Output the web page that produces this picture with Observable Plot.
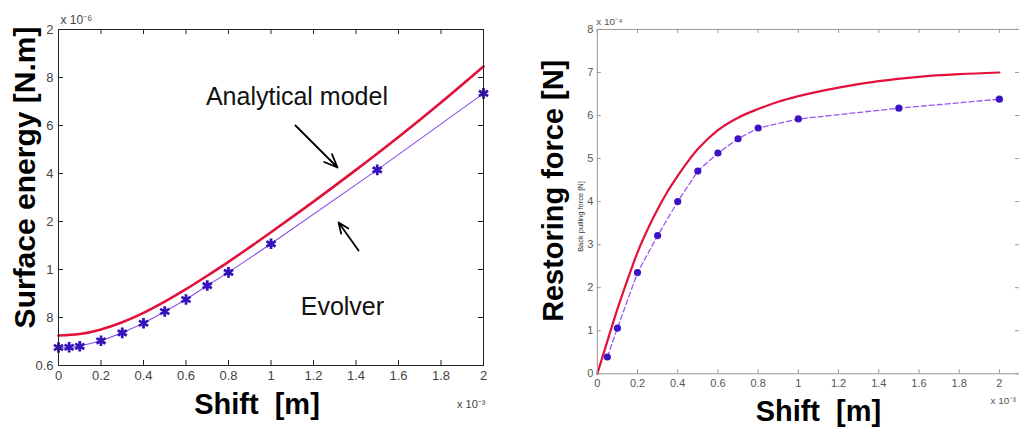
<!DOCTYPE html>
<html>
<head>
<meta charset="utf-8">
<script src="https://cdn.jsdelivr.net/npm/d3@7"></script>
<script src="https://cdn.jsdelivr.net/npm/@observablehq/plot@0.6"></script>
<style>
  html, body { margin: 0; padding: 0; background: #fff; overflow: hidden; }
  #wrap { position: relative; width: 1019px; height: 432px; overflow: hidden; }
  #left { position: absolute; left: 0; top: 0; }
  #right { position: absolute; left: 500px; top: 0; }
</style>
</head>
<body>
<div id="wrap"><div id="left"></div><div id="right"></div></div>
<script>
// ---- Surface energy (x 1e-6 N.m) against shift (x 1e-3 m) ----
const energyModelShift = [0, 0.1, 0.2, 0.3, 0.4, 0.5, 0.6, 0.7, 0.8, 0.9, 1.0, 1.2, 1.4, 1.6, 1.8, 2.0];
const energyModel      = [0.725, 0.731, 0.750, 0.780, 0.819, 0.866, 0.918, 0.974, 1.032, 1.093, 1.155, 1.283, 1.415, 1.552, 1.696, 1.846];
const energyEvolverShift = [0, 0.05, 0.1, 0.2, 0.3, 0.4, 0.5, 0.6, 0.7, 0.8, 1.0, 1.5, 2.0];
const energyEvolver      = [0.675, 0.676, 0.680, 0.703, 0.736, 0.776, 0.825, 0.875, 0.933, 0.988, 1.107, 1.415, 1.734];
const energyXTicks = [0, 0.2, 0.4, 0.6, 0.8, 1, 1.2, 1.4, 1.6, 1.8, 2];
const energyYTicks = [0.6, 0.8, 1.0, 1.2, 1.4, 1.6, 1.8, 2.0];
const energyYTickLabels = ["0.6", "8", "1", "2", "4", "6", "8", "2"];
const energyNotes = [
  {label: "Analytical model", x: 1.122, y: 1.717},
  {label: "Evolver", x: 1.336, y: 0.842}
];
const energyArrows = [
  {x1: 1.115, y1: 1.600, x2: 1.313, y2: 1.425},
  {x1: 1.412, y1: 1.079, x2: 1.318, y2: 1.196}
];

// ---- Restoring force (x 1e-4 N) against shift (x 1e-3 m) ----
const forceModelShift = [0, 0.05, 0.1, 0.15, 0.2, 0.25, 0.3, 0.35, 0.4, 0.45, 0.5, 0.6, 0.7, 0.8, 0.9, 1.0, 1.2, 1.4, 1.6, 1.8, 2.0];
const forceModel      = [0, 0.76, 1.50, 2.18, 2.82, 3.35, 3.82, 4.24, 4.60, 4.93, 5.22, 5.66, 5.95, 6.15, 6.32, 6.45, 6.65, 6.80, 6.90, 6.96, 7.00];
const forceEvolverShift = [0.05, 0.1, 0.2, 0.3, 0.4, 0.5, 0.6, 0.7, 0.8, 1.0, 1.5, 2.0];
const forceEvolver      = [0.39, 1.06, 2.35, 3.21, 4.00, 4.71, 5.13, 5.46, 5.71, 5.92, 6.17, 6.38];
const forceXTicks = [0, 0.2, 0.4, 0.6, 0.8, 1, 1.2, 1.4, 1.6, 1.8, 2];
const forceYTicks = [0, 1, 2, 3, 4, 5, 6, 7, 8];

const FONT = "'Liberation Sans', Arial, Helvetica, sans-serif";
const RED = "#e3103c";
const zip = (xs, ys) => xs.map((x, i) => ({x, y: ys[i]}));

// Inward tick marks on all four sides of a boxed frame
function boxTicks(xTicks, yTicks, frameW, frameH, len, color) {
  return [
    Plot.tickX(xTicks, {x: d => d, insetTop: frameH - len, stroke: color}),
    Plot.tickX(xTicks, {x: d => d, insetBottom: frameH - len, stroke: color}),
    Plot.tickY(yTicks, {y: d => d, insetRight: frameW - len, stroke: color}),
    Plot.tickY(yTicks, {y: d => d, insetLeft: frameW - len, stroke: color})
  ];
}

// Left panel
{
  const W = 500, H = 432, mL = 58, mR = 17, mT = 29, mB = 67;
  const fw = W - mL - mR, fh = H - mT - mB;
  const axisColor = "#222";
  const chart = Plot.plot({
    width: W, height: H,
    marginLeft: mL, marginRight: mR, marginTop: mT, marginBottom: mB,
    style: {fontFamily: FONT, background: "#fff"},
    x: {domain: [0, 2]},
    y: {domain: [0.6, 2]},
    marks: [
      Plot.line(zip(energyModelShift, energyModel), {x: "x", y: "y", stroke: RED, strokeWidth: 2.6, curve: "natural"}),
      Plot.line(zip(energyEvolverShift, energyEvolver), {x: "x", y: "y", stroke: "#8a4fe8", strokeWidth: 1.1}),
      Plot.dot(zip(energyEvolverShift, energyEvolver), {x: "x", y: "y", symbol: "asterisk", r: 5, stroke: "#3613b8", strokeWidth: 2.8}),
      Plot.frame({stroke: axisColor}),
      ...boxTicks(energyXTicks, energyYTicks, fw, fh, 5, axisColor),
      Plot.axisX({ticks: energyXTicks, tickSize: 0, tickPadding: 5, fontSize: 13, color: "#444", label: null, tickFormat: d => String(d)}),
      Plot.axisY({ticks: energyYTicks, tickSize: 0, tickPadding: 5, fontSize: 13, color: "#444", label: null,
        tickFormat: d => energyYTickLabels[energyYTicks.indexOf(d)]}),
      Plot.text(energyNotes, {x: "x", y: "y", text: "label", fontSize: 25, fill: "#111", textAnchor: "middle", lineAnchor: "middle"}),
      Plot.arrow(energyArrows, {x1: "x1", y1: "y1", x2: "x2", y2: "y2", stroke: "#000", strokeWidth: 1.8, headLength: 12, headAngle: 45}),
      Plot.text(["Surface energy [N.m]"], {frameAnchor: "left", rotate: -90, dx: -24, dy: -20, fontSize: 30, fontWeight: "bold", fill: "#000", textAnchor: "middle", lineAnchor: "bottom"}),
      Plot.text(["Shift\u00a0\u00a0[m]"], {frameAnchor: "bottom", dx: -14, dy: 48, fontSize: 29, fontWeight: "bold", fill: "#000", textAnchor: "middle", lineAnchor: "bottom"}),
      Plot.text(["x 10\u207b\u2076"], {frameAnchor: "top-left", dx: 2, dy: -6, fontSize: 12, fill: "#444", textAnchor: "start", lineAnchor: "bottom"}),
      Plot.text(["x 10\u207b\u00b3"], {frameAnchor: "bottom-right", dx: 2, dy: 42, fontSize: 11, fill: "#444", textAnchor: "end", lineAnchor: "bottom"})
    ]
  });
  document.getElementById("left").append(chart);
}

// Right panel
{
  const W = 520, H = 432, mL = 97, mR = 0, mT = 29, mB = 58;
  const fw = W - mL - mR, fh = H - mT - mB;
  const axisColor = "#999";
  const chart = Plot.plot({
    width: W, height: H,
    marginLeft: mL, marginRight: mR, marginTop: mT, marginBottom: mB,
    style: {fontFamily: FONT, background: "#fff", overflow: "hidden"},
    x: {domain: [0, 2.1]},
    y: {domain: [0, 8]},
    marks: [
      Plot.line(zip(forceModelShift, forceModel), {x: "x", y: "y", stroke: RED, strokeWidth: 2.2, curve: "monotone-x"}),
      Plot.line(zip(forceEvolverShift, forceEvolver), {x: "x", y: "y", stroke: "#9b55f0", strokeWidth: 1.3, strokeDasharray: "5,3"}),
      Plot.dot(zip(forceEvolverShift, forceEvolver), {x: "x", y: "y", r: 3.6, fill: "#3d12c4", stroke: "none"}),
      Plot.frame({stroke: axisColor}),
      ...boxTicks(forceXTicks, forceYTicks, fw, fh, 4, axisColor),
      Plot.axisX({ticks: forceXTicks, tickSize: 0, tickPadding: 5, fontSize: 11, color: "#555", label: null, tickFormat: d => String(d)}),
      Plot.axisY({ticks: forceYTicks, tickSize: 0, tickPadding: 4, fontSize: 11, color: "#555", label: null, tickFormat: d => String(d)}),
      Plot.text(["Restoring force [N]"], {frameAnchor: "bottom-left", rotate: -90, dx: -34, dy: -52, fontSize: 29, fontWeight: "bold", fill: "#000", textAnchor: "start", lineAnchor: "bottom"}),
      Plot.text(["Back pulling force [N]"], {frameAnchor: "left", rotate: -90, dx: -14, dy: 15, fontSize: 7.5, fill: "#333", textAnchor: "middle", lineAnchor: "bottom"}),
      Plot.text(["Shift\u00a0\u00a0[m]"], {frameAnchor: "bottom", dx: 10, dy: 47, fontSize: 29, fontWeight: "bold", fill: "#000", textAnchor: "middle", lineAnchor: "bottom"}),
      Plot.text(["x 10\u207b\u2074"], {frameAnchor: "top-left", dx: -1, dy: -4, fontSize: 10, fill: "#555", textAnchor: "start", lineAnchor: "bottom"}),
      Plot.text(["x 10\u207b\u00b3"], {frameAnchor: "bottom-right", dx: -29, dy: 30, fontSize: 10, fill: "#555", textAnchor: "start", lineAnchor: "bottom"})
    ]
  });
  document.getElementById("right").append(chart);
}
</script>
</body>
</html>
